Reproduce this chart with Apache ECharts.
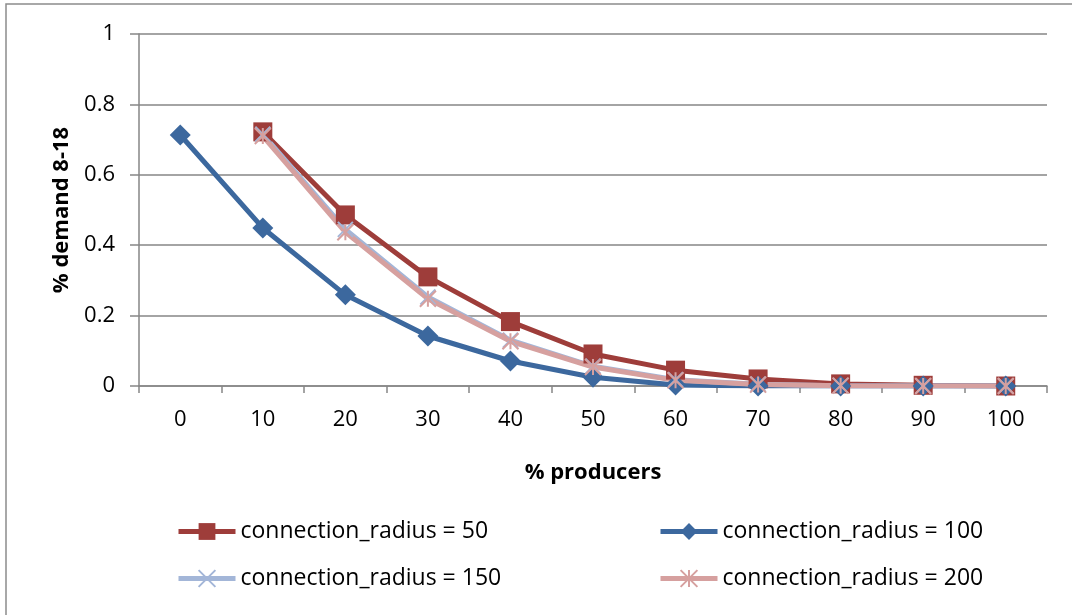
<!DOCTYPE html>
<html>
<head>
<meta charset="utf-8">
<script src="https://cdn.jsdelivr.net/npm/echarts@6/dist/echarts.min.js"></script>
<style>
  html, body { margin: 0; padding: 0; background: #ffffff; }
  #chart { width: 1072px; height: 615px; }
</style>
</head>
<body>
<div id="chart"></div>
<script>
// Share of producers (%) on the category axis
const producers = ['0', '10', '20', '30', '40', '50', '60', '70', '80', '90', '100'];
const yTicks = [0, 0.2, 0.4, 0.6, 0.8, 1];

// Share of demand 8-18 met, one list per connection radius ('-' = no value)
const radius50  = ['-', 0.722, 0.486, 0.310, 0.183, 0.091, 0.045, 0.020, 0.006, 0.002, 0.000];
const radius100 = [0.713, 0.449, 0.259, 0.142, 0.071, 0.025, 0.003, 0.000, 0.000, 0.000, 0.000];
const radius150 = ['-', 0.715, 0.445, 0.253, 0.130, 0.056, 0.018, 0.005, 0.001, 0.000, 0.000];
const radius200 = ['-', 0.710, 0.437, 0.248, 0.127, 0.054, 0.016, 0.004, 0.001, 0.000, 0.000];

const names = [
  'connection_radius = 50',
  'connection_radius = 100',
  'connection_radius = 150',
  'connection_radius = 200'
];

const FONT = "'Open Sans', 'Liberation Sans', sans-serif";
const GRID_GRAY = '#868686';

// Marker shapes: an "x" and an asterisk (x with a vertical bar)
const xMark = 'path://M0 0L10 10M10 0L0 10';
const starMark = 'path://M0 0L10 10M10 0L0 10M5 0L5 10';

function lineSeries(name, data, color, symbol, size, strokeMarker) {
  return {
    name: name,
    type: 'line',
    data: data,
    symbol: symbol,
    symbolSize: size,
    showAllSymbol: true,
    connectNulls: false,
    lineStyle: { color: color, width: 5 },
    itemStyle: strokeMarker
      ? { color: 'rgba(0,0,0,0)', borderColor: color, borderWidth: 2 }
      : { color: color, borderColor: color, borderWidth: 0 },
    emphasis: { disabled: true },
    animation: false
  };
}

const legendText = { fontFamily: FONT, fontSize: 23, color: '#000000' };
function legendAt(name, left, top) {
  return {
    data: [name],
    left: left,
    top: top,
    padding: 0,
    itemWidth: 57,
    itemHeight: 21,
    itemGap: 0,
    lineStyle: { width: 5 },
    textStyle: legendText,
    selectedMode: false
  };
}

const chart = echarts.init(document.getElementById('chart'), null, { renderer: 'canvas' });

chart.setOption({
  backgroundColor: '#ffffff',
  animation: false,
  graphic: [{
    type: 'rect',
    shape: { x: 6, y: 4, width: 1200, height: 800 },
    style: { fill: 'none', stroke: '#8c8c8c', lineWidth: 1.5 },
    silent: true,
    z: -1
  }],
  grid: { left: 139, right: 25, top: 34, bottom: 229, containLabel: false },
  legend: [
    legendAt(names[0], 176, 520),
    legendAt(names[1], 658, 520),
    legendAt(names[2], 176, 567),
    legendAt(names[3], 658, 567)
  ],
  xAxis: {
    type: 'category',
    data: producers,
    boundaryGap: true,
    name: '% producers',
    nameLocation: 'middle',
    nameGap: 76,
    nameTextStyle: { fontFamily: FONT, fontSize: 22, fontWeight: 'bold', color: '#000000' },
    axisLine: { show: true, lineStyle: { color: GRID_GRAY, width: 1.5 } },
    axisTick: { show: true, alignWithLabel: false, length: 7, lineStyle: { color: GRID_GRAY, width: 1.5 } },
    axisLabel: { fontFamily: FONT, fontSize: 22, color: '#000000', margin: 23 },
    splitLine: { show: false }
  },
  yAxis: {
    type: 'value',
    min: yTicks[0],
    max: yTicks[yTicks.length - 1],
    interval: 0.2,
    name: '% demand 8-18',
    nameLocation: 'middle',
    nameGap: 66,
    nameRotate: 90,
    nameTextStyle: { fontFamily: FONT, fontSize: 22, fontWeight: 'bold', color: '#000000' },
    axisLine: { show: true, lineStyle: { color: GRID_GRAY, width: 1.5 } },
    axisTick: { show: true, length: 9, lineStyle: { color: GRID_GRAY, width: 1.5 } },
    axisLabel: {
      fontFamily: FONT, fontSize: 22, color: '#000000', margin: 24,
      formatter: function (v) { return String(Math.round(v * 10) / 10); }
    },
    splitLine: { show: true, lineStyle: { color: GRID_GRAY, width: 1.5 } }
  },
  series: [
    lineSeries(names[0], radius50, '#9e3d3a', 'rect', 19, false),
    lineSeries(names[1], radius100, '#3c689e', 'diamond', 21, false),
    lineSeries(names[2], radius150, '#a3b6d8', xMark, 15, true),
    lineSeries(names[3], radius200, '#d6a09f', starMark, 16, true)
  ]
});
</script>
</body>
</html>
